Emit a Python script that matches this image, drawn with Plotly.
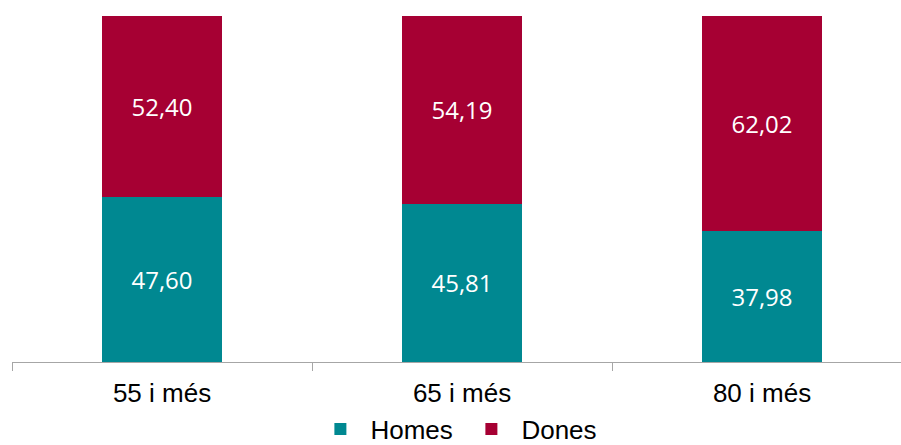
import plotly.graph_objects as go

# Percentage of men and women by age group
categories = ["55 i més", "65 i més", "80 i més"]
homes = [47.60, 45.81, 37.98]
dones = [52.40, 54.19, 62.02]

TEAL = "#008891"
CRIMSON = "#A60033"


def fmt(v):
    return f"{v:.2f}".replace(".", ",")


fig = go.Figure()
fig.add_trace(go.Bar(
    name="Homes", x=categories, y=homes,
    marker=dict(color=TEAL, line=dict(width=0)),
    text=[fmt(v) for v in homes], textposition="inside",
    insidetextanchor="middle",
    textfont=dict(family="Open Sans", size=24, color="white"),
))
fig.add_trace(go.Bar(
    name="Dones", x=categories, y=dones,
    marker=dict(color=CRIMSON, line=dict(width=0)),
    text=[fmt(v) for v in dones], textposition="inside",
    insidetextanchor="middle",
    textfont=dict(family="Open Sans", size=24, color="white"),
))

fig.update_layout(
    barmode="stack",
    bargap=0.6,
    width=901, height=445,
    margin=dict(l=12, r=0, t=16, b=83, autoexpand=False),
    plot_bgcolor="white", paper_bgcolor="white",
    font=dict(family="Liberation Sans, Arial", size=26, color="black"),
    showlegend=True,
    legend=dict(
        orientation="h", x=0.5055, xanchor="center", y=-0.194, yanchor="middle",
        font=dict(family="Liberation Sans, Arial", size=26, color="black"),
        itemwidth=50, entrywidth=86, traceorder="normal",
    ),
)
fig.update_xaxes(
    range=[-0.5, 2.4633],
    showline=True, linecolor="#A6A6A6", linewidth=1,
    ticks="outside", tickson="boundaries", ticklen=8, tickcolor="#A6A6A6",
    ticklabelstandoff=8,
    showgrid=False, zeroline=False,
    tickfont=dict(family="Liberation Sans, Arial", size=26, color="black"),
)
fig.update_yaxes(
    range=[0, 100], visible=False, showgrid=False, zeroline=False,
)

fig.write_html("out.html")
